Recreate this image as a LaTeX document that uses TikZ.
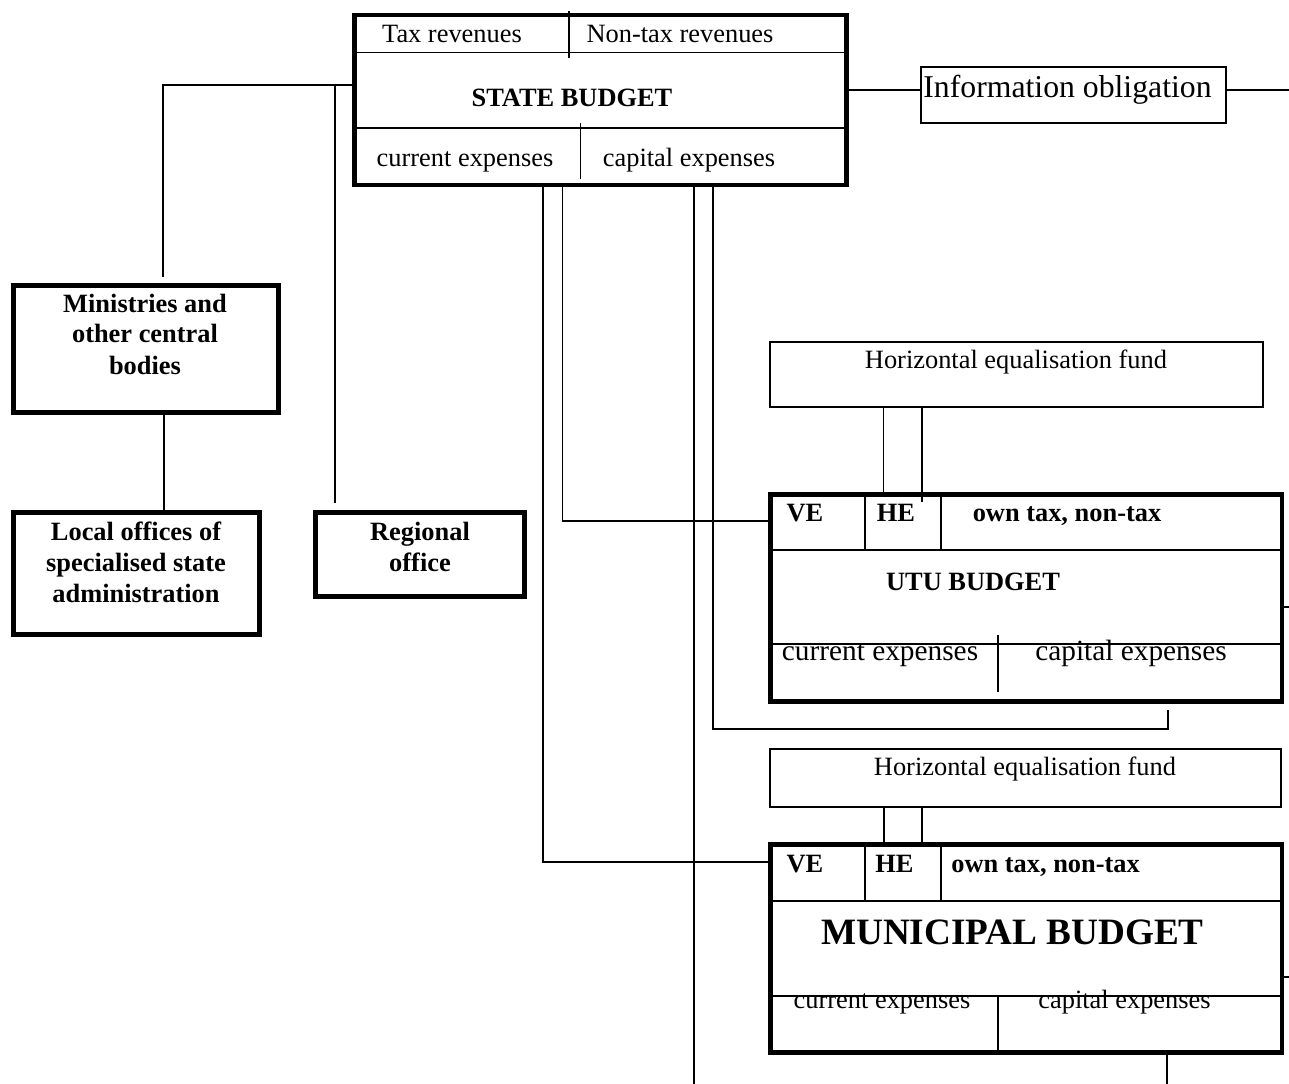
\documentclass[tikz,border=0pt]{standalone}
\usepackage{fontspec}
\setmainfont{Liberation Serif}
\usetikzlibrary{fit}
\begin{document}
\begin{tikzpicture}[x=0.75pt,y=-0.75pt,
  thickbox/.style={draw, line width=3.4pt, inner sep=0pt, fit={#1}},
  thinbox/.style={draw, line width=1pt, inner sep=0pt, fit={#1}},
  conn/.style={line width=1pt},
  heavyconn/.style={line width=1.6pt},
  part/.style={line width=1pt},
  txt/.style={inner sep=0pt, anchor=base, font=\fontsize{19.8}{23.8}\selectfont},
  btxt/.style={inner sep=0pt, anchor=base, font=\fontsize{19.8}{23.8}\selectfont\bfseries},
  bigtxt/.style={inner sep=0pt, anchor=base, font=\fontsize{22}{26}\selectfont}]
\path[use as bounding box, fill=white] (0,0) rectangle (1289,1084);

% ---------- State budget ----------
\node[thickbox={(354.5,15)(846.5,185)}] (sb) {};
\draw[part] (354.5,52.3) -- (846.5,52.3);
\draw[part] (354.5,128) -- (846.5,128);
\draw[part] (569,11) -- (569,58);
\draw[part] (580.7,123) -- (580.7,179);
\node[txt] (taxrev) at (452,43) {Tax revenues};
\node[txt] (nontax) at (680,43) {Non-tax revenues};
\node[btxt] (sbtitle) at (572,107) {STATE BUDGET};
\node[txt] (sbcur) at (465,167) {current expenses};
\node[txt] (sbcap) at (689,167) {capital expenses};

% ---------- Information obligation ----------
\node[thinbox={(921,67)(1226,123)}] (info) {};
\node[inner sep=0pt, anchor=base, font=\fontsize{23.8}{28}\selectfont] (infotxt) at (1067.5,98) {Information obligation};
\coordinate (infoY) at (0,90);
\coordinate (infoEnd) at (1289,90);
\draw[conn] (sb.east |- infoY) -- (info.west |- infoY);
\draw[conn] (info.east |- infoY) -- (infoEnd);

% ---------- Left branch ----------
\node[thickbox={(13.5,285.5)(278.5,412.5)}] (min) {};
\node[thickbox={(13.5,512.5)(259.5,634.5)}] (loc) {};
\node[thickbox={(315.5,512.5)(524.5,596.5)}] (reg) {};
\coordinate (jL) at (163,85);
\coordinate (minTop) at (163,277);
\coordinate (jR) at (335,85);
\coordinate (regTop) at (335,503);
\coordinate (locX) at (164,0);
\draw[conn] (sb.west |- jL) -- (jL) -- (minTop);
\draw[conn] (jR) -- (regTop);
\draw[conn] (min.south -| locX) -- (loc.north -| locX);

\node[btxt] (min1) at (145,313) {Ministries and};
\node[btxt] (min2) at (145,343) {other central};
\node[btxt] (min3) at (145,374) {bodies};
\node[btxt] (loc1) at (136,540) {Local offices of};
\node[btxt] (loc2) at (136,571) {specialised state};
\node[btxt] (loc3) at (136,602) {administration};
\node[btxt] (reg1) at (420,540) {Regional};
\node[btxt] (reg2) at (420,571) {office};

% ---------- UTU ----------
\node[thinbox={(770,342)(1263,407)}] (hef1) {};
\node[txt] (hef1txt) at (1016,368.5) {Horizontal equalisation fund};
\node[thickbox={(770.5,494.5)(1282,701.5)}] (utu) {};
\draw[part] (770.5,550) -- (1282,550);
\draw[part] (865,494.5) -- (865,550);
\draw[part] (941,494.5) -- (941,550);
\draw[part] (770.5,644) -- (1282,644);
\draw[part] (998,635) -- (998,692);
\node[btxt] (utuve) at (805,521) {VE};
\node[btxt] (utuhe) at (896,521) {HE};
\node[btxt] (utuown) at (1067,521) {own tax, non-tax};
\node[btxt] (ututitle) at (973,590) {UTU BUDGET};
\node[bigtxt] (utucur) at (880,660) {current expenses};
\node[bigtxt] (utucap) at (1131,660) {capital expenses};
\coordinate (h1a) at (883.5,0);
\coordinate (h1b) at (922,502);
\draw[conn] (hef1.south -| h1a) -- (utu.north -| h1a);
\draw[conn] (hef1.south -| h1b) -- (h1b);
\coordinate (utuTick) at (1289,607);
\draw[conn] (utu.east |- utuTick) -- (utuTick);

% ---------- Municipal ----------
\node[thinbox={(770,749)(1281,807)}] (hef2) {};
\node[txt] (hef2txt) at (1025,775) {Horizontal equalisation fund};
\node[thickbox={(770.5,844.5)(1282,1052.5)}] (mun) {};
\draw[part] (770.5,901) -- (1282,901);
\draw[part] (865,844.5) -- (865,901);
\draw[part] (941,844.5) -- (941,901);
\draw[part] (770.5,996) -- (1282,996);
\draw[part] (998,996) -- (998,1052.5);
\node[btxt] (munve) at (805,872) {VE};
\node[btxt] (munhe) at (894.5,872) {HE};
\node[btxt] (munown) at (1045.6,872) {own tax, non-tax};
\node[inner sep=0pt, anchor=base, font=\fontsize{27.9}{33}\selectfont\bfseries] (muntitle) at (1012.5,944) {MUNICIPAL BUDGET};
\node[txt] (muncur) at (882,1008) {current expenses};
\node[txt] (muncap) at (1124.5,1008) {capital expenses};
\coordinate (h2a) at (884,0);
\coordinate (h2b) at (922,0);
\draw[conn] (hef2.south -| h2a) -- (mun.north -| h2a);
\draw[conn] (hef2.south -| h2b) -- (mun.north -| h2b);
\coordinate (munTick) at (1289,977);
\draw[conn] (mun.east |- munTick) -- (munTick);
\coordinate (munBot) at (1167,1084);
\draw[conn] (mun.south -| munBot) -- (munBot);

% ---------- Lines from state budget down ----------
\coordinate (v1) at (543,862);
\coordinate (v2) at (562.5,521);
\coordinate (v3) at (694,1084);
\coordinate (v4a) at (713,729);
\coordinate (v4b) at (1168,729);
\coordinate (v4c) at (1168,710);
\draw[conn] (sb.south -| v1) -- (v1) -- (mun.west |- v1);
\draw[conn] (sb.south -| v2) -- (v2) -- (utu.west |- v2);
\draw[heavyconn] (sb.south -| v3) -- (v3);
\draw[conn] (sb.south -| v4a) -- (v4a) -- (v4b) -- (v4c);
\end{tikzpicture}
\end{document}
